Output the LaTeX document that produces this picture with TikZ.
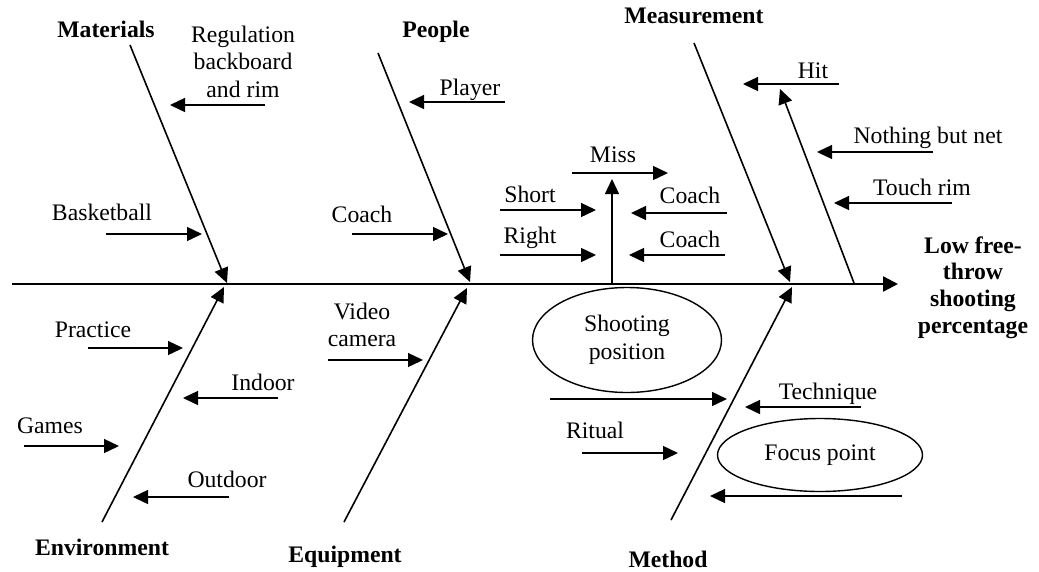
\documentclass[tikz,border=0pt]{standalone}
\usepackage{fontspec}
\setmainfont{Liberation Serif}
\usetikzlibrary{arrows.meta,shapes.geometric}
\begin{document}
\begin{tikzpicture}[x=1pt,y=-1pt,
  txt/.style={font=\fontsize{23.7}{27.5}\selectfont, inner sep=0pt},
  lbl/.style={txt, anchor=base},
  blk/.style={txt, align=center},
  hd/.style={font=\fontsize{23.7}{27.5}\selectfont\bfseries, inner sep=0pt, anchor=base},
  arr/.style={line width=1.4pt, -{Triangle[length=15pt,width=14pt]}},
  bone/.style={line width=1.6pt, -{Triangle[length=15pt,width=14pt]}},
  spine/.style={line width=2.4pt, -{Triangle[length=15pt,width=15pt]}},
  oval/.style={ellipse, draw, line width=1.4pt, inner sep=0pt, align=center, font=\fontsize{23.7}{27.5}\selectfont}]
\useasboundingbox (0,0) rectangle (1039,571);

% spine
\coordinate (sp0) at (12,284);
\coordinate (spT) at (898,284);
\draw[spine] (sp0) -- (spT);
\node[blk, font=\fontsize{23.7}{26.7}\selectfont\bfseries] (effect) at (973,287.5) {Low free-\\throw\\shooting\\percentage};

% headings
\node[hd] (mat) at (106,37) {Materials};
\node[hd] (peo) at (436,37) {People};
\node[hd] (mea) at (694,23) {Measurement};
\node[hd] (env) at (102,555) {Environment};
\node[hd] (equ) at (345,562) {Equipment};
\node[hd] (met) at (668,567) {Method};

% bones
\coordinate (matT) at (130,45);  \coordinate (matE) at (227,283);
\coordinate (peoT) at (378,53);  \coordinate (peoE) at (470,282);
\coordinate (meaT) at (694,43);  \coordinate (meaE) at (790,282);
\coordinate (envT) at (102,522); \coordinate (envE) at (224,287);
\coordinate (equT) at (344,522); \coordinate (equE) at (467,288);
\coordinate (metT) at (671,520); \coordinate (metE) at (792,287);
\draw[bone] (matT) -- (matE);
\draw[bone] (peoT) -- (peoE);
\draw[bone] (meaT) -- (meaE);
\draw[bone] (envT) -- (envE);
\draw[bone] (equT) -- (equE);
\draw[bone] (metT) -- (metE);

% measurement sub-bone
\coordinate (hitB) at (854,283); \coordinate (hitT) at (780,89);
\draw[bone] (hitB) -- (hitT);

% Materials
\node[blk] (reg) at (243,61.5) {Regulation\\backboard\\and rim};
\coordinate (regS) at (265,105); \coordinate (regE) at (170,105);
\draw[arr] (regS) -- (regE);
\node[lbl] (bball) at (102,220) {Basketball};
\coordinate (bbS) at (106,234); \coordinate (bbE) at (202,234);
\draw[arr] (bbS) -- (bbE);

% People
\node[lbl] (player) at (470,95) {Player};
\coordinate (plS) at (505,102); \coordinate (plE) at (409,102);
\draw[arr] (plS) -- (plE);
\node[lbl] (coachP) at (362,222) {Coach};
\coordinate (cpS) at (352,234); \coordinate (cpE) at (448,234);
\draw[arr] (cpS) -- (cpE);

% Miss cluster
\node[lbl] (miss) at (613,162) {Miss};
\coordinate (miS) at (572,173); \coordinate (miE) at (668,173);
\draw[arr] (miS) -- (miE);
\coordinate (upB) at (612,284); \coordinate (upT) at (612,179);
\draw[arr] (upB) -- (upT);
\node[lbl] (short) at (530,202) {Short};
\coordinate (shS) at (500,210); \coordinate (shE) at (596,210);
\draw[arr] (shS) -- (shE);
\node[lbl] (right) at (530,243) {Right};
\coordinate (riS) at (500,255); \coordinate (riE) at (596,255);
\draw[arr] (riS) -- (riE);
\node[lbl] (coachU) at (690,203) {Coach};
\coordinate (cuS) at (727,213); \coordinate (cuE) at (631,213);
\draw[arr] (cuS) -- (cuE);
\node[lbl] (coachL) at (690,247) {Coach};
\coordinate (clS) at (725,255); \coordinate (clE) at (629,255);
\draw[arr] (clS) -- (clE);

% Measurement
\node[lbl] (hit) at (813,78) {Hit};
\coordinate (htS) at (839,84); \coordinate (htE) at (743,84);
\draw[arr] (htS) -- (htE);
\node[lbl] (nbn) at (928,143) {Nothing but net};
\coordinate (nbS) at (933,152); \coordinate (nbE) at (817,152);
\draw[arr] (nbS) -- (nbE);
\node[lbl] (touch) at (922,195) {Touch rim};
\coordinate (toS) at (952,203); \coordinate (toE) at (834,203);
\draw[arr] (toS) -- (toE);

% Environment
\node[lbl] (prac) at (93,337) {Practice};
\coordinate (prS) at (88,348); \coordinate (prE) at (183,348);
\draw[arr] (prS) -- (prE);
\node[lbl] (indoor) at (263,390) {Indoor};
\coordinate (inS) at (278,398); \coordinate (inE) at (183,398);
\draw[arr] (inS) -- (inE);
\node[lbl] (games) at (50,433) {Games};
\coordinate (gaS) at (24,446); \coordinate (gaE) at (119,446);
\draw[arr] (gaS) -- (gaE);
\node[lbl] (outdoor) at (227,487) {Outdoor};
\coordinate (ouS) at (229,497); \coordinate (ouE) at (133,497);
\draw[arr] (ouS) -- (ouE);

% Equipment
\node[blk] (video) at (362,325) {Video\\camera};
\coordinate (viS) at (328,360); \coordinate (viE) at (423,360);
\draw[arr] (viS) -- (viE);

% Method
\node[oval, minimum width=189pt, minimum height=105pt] (shoot) at (627,340) {Shooting\\position};
\coordinate (spS) at (550,399); \coordinate (spE) at (727,399);
\draw[arr] (spS) -- (spE);
\node[lbl] (ritual) at (595,438) {Ritual};
\coordinate (rtS) at (582,453); \coordinate (rtE) at (678,453);
\draw[arr] (rtS) -- (rtE);
\node[lbl] (tech) at (828,399) {Technique};
\coordinate (teS) at (861,407); \coordinate (teE) at (745,407);
\draw[arr] (teS) -- (teE);
\node[oval, minimum width=205pt, minimum height=73pt] (focus) at (820,455) {Focus point};
\coordinate (boS) at (902,496); \coordinate (boE) at (710,496);
\draw[arr] (boS) -- (boE);
\end{tikzpicture}
\end{document}
